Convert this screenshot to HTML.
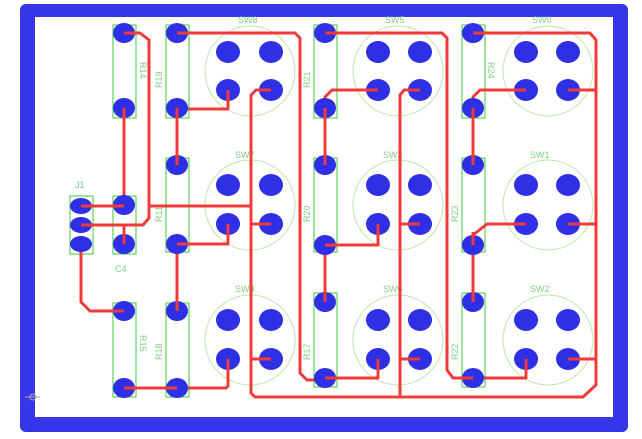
<!DOCTYPE html>
<html><head><meta charset="utf-8"><style>
html,body{margin:0;padding:0;background:#fff;width:642px;height:439px;overflow:hidden}
svg{display:block}
text{font-family:"Liberation Sans",sans-serif;font-size:9px;fill:#7fd07f}
</style></head><body>
<svg width="642" height="439" viewBox="0 0 642 439" xmlns="http://www.w3.org/2000/svg">
<rect x="0" y="0" width="642" height="439" fill="#fff"/>
<rect x="20" y="4" width="608" height="428" rx="6" fill="#3636e8"/>
<rect x="35" y="17" width="578" height="400" fill="#fff"/>
<line x1="25" y1="397" x2="40" y2="397" stroke="#aaa" stroke-width="1"/>
<circle cx="33" cy="397" r="3" fill="none" stroke="#aaa" stroke-width="1"/>

<!-- switch circles -->
<g fill="none" stroke="#bfe6a8" stroke-width="1">
<circle cx="250" cy="71" r="45"/><circle cx="398" cy="71" r="45"/><circle cx="548" cy="71" r="45"/>
<circle cx="250" cy="205" r="45"/><circle cx="398" cy="205" r="45"/><circle cx="548" cy="205" r="45"/>
<circle cx="250" cy="340" r="45"/><circle cx="398" cy="340" r="45"/><circle cx="548" cy="340" r="45"/>
</g>
<g>
<text x="238" y="23">SW8</text><text x="385" y="23">SW5</text><text x="532" y="23">SW0</text>
<text x="235" y="158">SW7</text><text x="383" y="158">SW3</text><text x="530" y="158">SW1</text>
<text x="235" y="292">SW4</text><text x="383" y="292">SW6</text><text x="530" y="292">SW2</text>
<text x="75" y="188">J1</text><text x="115" y="272">C4</text>
</g>

<!-- resistor bodies -->
<g fill="none" stroke="#3cc83c" stroke-width="1">
<rect x="113" y="25" width="23" height="93"/><rect x="166" y="25" width="23" height="93"/>
<rect x="314" y="25" width="23" height="93"/><rect x="462" y="25" width="23" height="93"/>
<rect x="166" y="158" width="23" height="94"/><rect x="314" y="158" width="23" height="94"/><rect x="462" y="158" width="23" height="94"/>
<rect x="113" y="196" width="23" height="58"/><rect x="70" y="196" width="23" height="58"/>
<rect x="113" y="303" width="23" height="94"/><rect x="166" y="303" width="23" height="94"/>
<rect x="314" y="293" width="23" height="94"/><rect x="462" y="293" width="23" height="94"/>
</g>
<g font-size="9">
<text transform="translate(140,62) rotate(90)">R14</text>
<text transform="translate(162,88) rotate(-90)">R19</text>
<text transform="translate(310,88) rotate(-90)">R21</text>
<text transform="translate(488,62) rotate(90)">R24</text>
<text transform="translate(162,222) rotate(-90)">R11</text>
<text transform="translate(310,222) rotate(-90)">R20</text>
<text transform="translate(458,222) rotate(-90)">R23</text>
<text transform="translate(140,335) rotate(90)">R15</text>
<text transform="translate(162,360) rotate(-90)">R18</text>
<text transform="translate(310,360) rotate(-90)">R17</text>
<text transform="translate(458,360) rotate(-90)">R22</text>
</g>

<!-- traces -->
<g fill="none" stroke="#f03a3a" stroke-width="3" stroke-linejoin="round">
<polyline points="124,33 140,33 149,40 149,218 143,225 81,225"/>
<line x1="124" y1="225" x2="124" y2="244"/>
<polyline points="124,108 124,206 81,206"/>
<line x1="149" y1="206" x2="251" y2="206"/>
<polyline points="271,90 256,90 251,95 251,393 255,397 583,397 596,385 596,40 590,33 473,33"/>
<line x1="251" y1="224" x2="271" y2="224"/><line x1="251" y1="359" x2="271" y2="359"/>
<polyline points="420,90 404,90 400,95 400,397"/>
<line x1="400" y1="224" x2="420" y2="224"/><line x1="400" y1="359" x2="420" y2="359"/>
<line x1="568" y1="90" x2="596" y2="90"/><line x1="568" y1="224" x2="596" y2="224"/><line x1="568" y1="359" x2="596" y2="359"/>
<polyline points="177,33 295,33 300,38 300,373 307,380 325,380"/>
<polyline points="228,90 228,109 177,109 177,165"/>
<polyline points="228,224 228,244 177,244 177,311"/>
<polyline points="124,388 226,388 228,386 228,359"/>
<polyline points="81,244 81,302 90,311 124,311"/>
<polyline points="325,33 442,33 447,38 447,370 453,378 526,378 526,359"/>
<polyline points="378,90 332,90 325,97 325,165"/>
<polyline points="378,224 378,245 325,245 325,302"/>
<polyline points="325,378 378,378 378,359"/>
<polyline points="526,90 480,90 473,97 473,165"/>
<polyline points="526,224 487,224 473,235 473,302"/>
</g>

<!-- pads -->
<g fill="#2f2fe6">
<ellipse cx="124" cy="33" rx="11" ry="10"/><ellipse cx="124" cy="108" rx="11" ry="10"/>
<ellipse cx="177" cy="33" rx="11" ry="10"/><ellipse cx="177" cy="108" rx="11" ry="10"/>
<ellipse cx="325" cy="33" rx="11" ry="10"/><ellipse cx="325" cy="108" rx="11" ry="10"/>
<ellipse cx="473" cy="33" rx="11" ry="10"/><ellipse cx="473" cy="108" rx="11" ry="10"/>
<ellipse cx="177" cy="165" rx="11" ry="10"/><ellipse cx="177" cy="244" rx="11" ry="10"/>
<ellipse cx="325" cy="165" rx="11" ry="10"/><ellipse cx="325" cy="245" rx="11" ry="10"/>
<ellipse cx="473" cy="165" rx="11" ry="10"/><ellipse cx="473" cy="245" rx="11" ry="10"/>
<ellipse cx="124" cy="205" rx="11" ry="10"/><ellipse cx="124" cy="244" rx="11" ry="10"/>
<ellipse cx="81" cy="206" rx="11" ry="8"/><ellipse cx="81" cy="225" rx="11" ry="8"/><ellipse cx="81" cy="244" rx="11" ry="8"/>
<ellipse cx="124" cy="311" rx="11" ry="10"/><ellipse cx="124" cy="388" rx="11" ry="10"/>
<ellipse cx="177" cy="311" rx="11" ry="10"/><ellipse cx="177" cy="388" rx="11" ry="10"/>
<ellipse cx="325" cy="302" rx="11" ry="10"/><ellipse cx="325" cy="378" rx="11" ry="10"/>
<ellipse cx="473" cy="302" rx="11" ry="10"/><ellipse cx="473" cy="378" rx="11" ry="10"/>
</g>
<g fill="#2f2fe6">
<ellipse cx="228" cy="52" rx="12" ry="11"/><ellipse cx="271" cy="52" rx="12" ry="11"/><ellipse cx="228" cy="90" rx="12" ry="11"/><ellipse cx="271" cy="90" rx="12" ry="11"/>
<ellipse cx="378" cy="52" rx="12" ry="11"/><ellipse cx="420" cy="52" rx="12" ry="11"/><ellipse cx="378" cy="90" rx="12" ry="11"/><ellipse cx="420" cy="90" rx="12" ry="11"/>
<ellipse cx="526" cy="52" rx="12" ry="11"/><ellipse cx="568" cy="52" rx="12" ry="11"/><ellipse cx="526" cy="90" rx="12" ry="11"/><ellipse cx="568" cy="90" rx="12" ry="11"/>
<ellipse cx="228" cy="185" rx="12" ry="11"/><ellipse cx="271" cy="185" rx="12" ry="11"/><ellipse cx="228" cy="224" rx="12" ry="11"/><ellipse cx="271" cy="224" rx="12" ry="11"/>
<ellipse cx="378" cy="185" rx="12" ry="11"/><ellipse cx="420" cy="185" rx="12" ry="11"/><ellipse cx="378" cy="224" rx="12" ry="11"/><ellipse cx="420" cy="224" rx="12" ry="11"/>
<ellipse cx="526" cy="185" rx="12" ry="11"/><ellipse cx="568" cy="185" rx="12" ry="11"/><ellipse cx="526" cy="224" rx="12" ry="11"/><ellipse cx="568" cy="224" rx="12" ry="11"/>
<ellipse cx="228" cy="320" rx="12" ry="11"/><ellipse cx="271" cy="320" rx="12" ry="11"/><ellipse cx="228" cy="359" rx="12" ry="11"/><ellipse cx="271" cy="359" rx="12" ry="11"/>
<ellipse cx="378" cy="320" rx="12" ry="11"/><ellipse cx="420" cy="320" rx="12" ry="11"/><ellipse cx="378" cy="359" rx="12" ry="11"/><ellipse cx="420" cy="359" rx="12" ry="11"/>
<ellipse cx="526" cy="320" rx="12" ry="11"/><ellipse cx="568" cy="320" rx="12" ry="11"/><ellipse cx="526" cy="359" rx="12" ry="11"/><ellipse cx="568" cy="359" rx="12" ry="11"/>
</g>
<!-- short trace stubs over pads -->
<g stroke="#f03a3a" stroke-width="3" fill="none">
<line x1="124" y1="33" x2="140" y2="33"/><line x1="177" y1="33" x2="190" y2="33"/><line x1="325" y1="33" x2="338" y2="33"/><line x1="473" y1="33" x2="486" y2="33"/>
<line x1="81" y1="206" x2="124" y2="206"/><line x1="81" y1="225" x2="93" y2="225"/><line x1="124" y1="225" x2="124" y2="244"/>
<line x1="124" y1="311" x2="110" y2="311"/><line x1="124" y1="388" x2="177" y2="388"/>
<line x1="256" y1="90" x2="271" y2="90"/><line x1="404" y1="90" x2="420" y2="90"/><line x1="568" y1="90" x2="582" y2="90"/>
<line x1="228" y1="90" x2="228" y2="104"/><line x1="366" y1="90" x2="378" y2="90"/><line x1="514" y1="90" x2="526" y2="90"/>
<line x1="256" y1="224" x2="271" y2="224"/><line x1="404" y1="224" x2="420" y2="224"/><line x1="568" y1="224" x2="582" y2="224"/>
<line x1="228" y1="224" x2="228" y2="238"/><line x1="378" y1="224" x2="378" y2="238"/><line x1="512" y1="224" x2="526" y2="224"/>
<line x1="256" y1="359" x2="271" y2="359"/><line x1="404" y1="359" x2="420" y2="359"/><line x1="568" y1="359" x2="582" y2="359"/>
<line x1="228" y1="359" x2="228" y2="374"/><line x1="378" y1="359" x2="378" y2="372"/><line x1="526" y1="359" x2="526" y2="372"/>
<line x1="177" y1="108" x2="177" y2="122"/><line x1="177" y1="165" x2="177" y2="152"/><line x1="177" y1="244" x2="190" y2="244"/><line x1="177" y1="311" x2="177" y2="298"/>
<line x1="325" y1="108" x2="325" y2="122"/><line x1="325" y1="165" x2="325" y2="152"/><line x1="325" y1="245" x2="338" y2="245"/><line x1="325" y1="302" x2="325" y2="290"/>
<line x1="473" y1="108" x2="473" y2="122"/><line x1="473" y1="165" x2="473" y2="152"/><line x1="473" y1="245" x2="473" y2="232"/><line x1="473" y1="302" x2="473" y2="290"/>
<line x1="124" y1="108" x2="124" y2="122"/><line x1="325" y1="378" x2="338" y2="378"/><line x1="473" y1="378" x2="460" y2="378"/>
</g>
</svg>
</body></html>
